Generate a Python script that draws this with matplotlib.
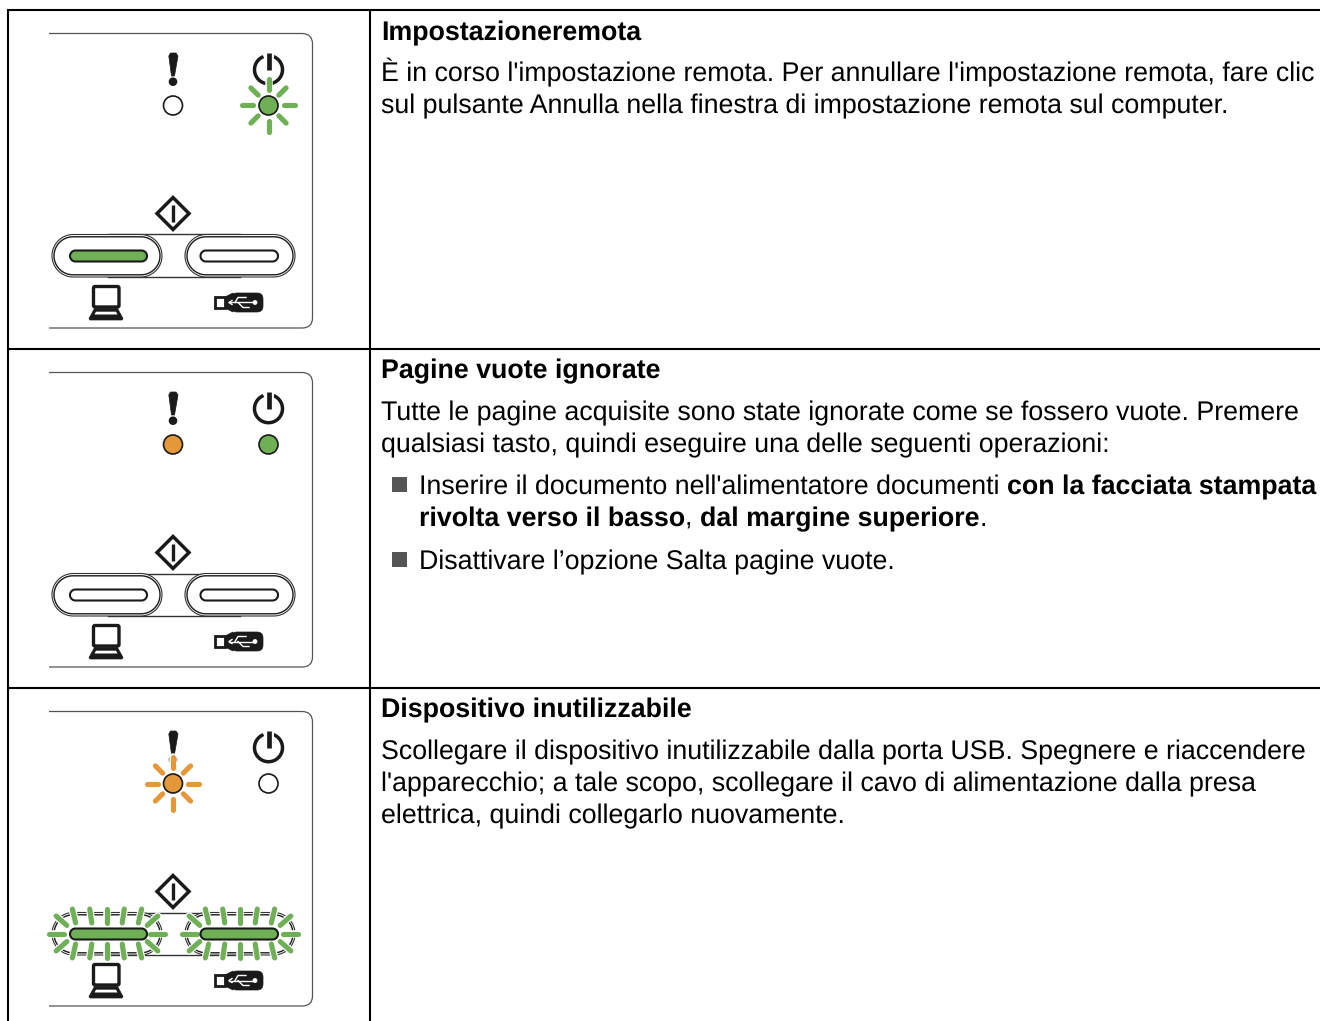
import numpy as np
import matplotlib
matplotlib.use("Agg")
import matplotlib.pyplot as plt
from matplotlib.patches import Circle, FancyBboxPatch, PathPatch, Polygon, Rectangle
from matplotlib.path import Path

plt.rcParams['font.family'] = ['Liberation Sans', 'DejaVu Sans']
plt.rcParams['text.hinting'] = 'no_hinting'

# -----------------------------
# Table text: (x, baseline y, [(text, bold), ...])
# -----------------------------
text_lines = [
    (381, 40, [("Impostazioneremota", True)]),
    (381, 81, [("È in corso l'impostazione remota. Per annullare l'impostazione remota, fare clic", False)]),
    (381, 113, [("sul pulsante Annulla nella finestra di impostazione remota sul computer.", False)]),
    (381, 378, [("Pagine vuote ignorate", True)]),
    (381, 420, [("Tutte le pagine acquisite sono state ignorate come se fossero vuote. Premere", False)]),
    (381, 452, [("qualsiasi tasto, quindi eseguire una delle seguenti operazioni:", False)]),
    (419, 494, [("Inserire il documento nell'alimentatore documenti ", False), ("con la facciata stampata", True)]),
    (419, 526, [("rivolta verso il basso", True), (", ", False), ("dal margine superiore", True), (".", False)]),
    (419, 569, [("Disattivare l’opzione Salta pagine vuote.", False)]),
    (381, 717, [("Dispositivo inutilizzabile", True)]),
    (381, 759, [("Scollegare il dispositivo inutilizzabile dalla porta USB. Spegnere e riaccendere", False)]),
    (381, 791, [("l'apparecchio; a tale scopo, scollegare il cavo di alimentazione dalla presa", False)]),
    (381, 823, [("elettrica, quindi collegarlo nuovamente.", False)]),
]
bullet_y = [484, 559]

row_lines = [10, 349, 688]
col_lines = [8, 370]

# -----------------------------
# Panel states, one per table row
# -----------------------------
panel_offsets = [0, 339, 678]
error_led = [None, "orange", "orange"]
power_led = ["green", "green", None]
error_blink = [False, False, True]
power_blink = [True, False, False]
pc_led = ["green", None, "green"]
usb_led = [None, None, "green"]
pills_blink = [False, False, True]

GREEN = "#6fb056"
ORANGE = "#e5983a"
colors = {"green": GREEN, "orange": ORANGE, None: "white"}
INK = "#1a1a1a"
FONT_SIZE = 19.22

fig = plt.figure(figsize=(13.2, 10.21), dpi=100)
ax = fig.add_axes([0, 0, 1, 1])
ax.set_xlim(0, 1320)
ax.set_ylim(1021, 0)
ax.axis("off")


def ray(x0, y0, x1, y1, col, z=6):
    # ends given as seen, the round caps add the rest
    d = np.hypot(x1 - x0, y1 - y0)
    ux, uy = (x1 - x0) / d * 1.6, (y1 - y0) / d * 1.6
    xs = [x0 + ux, x1 - ux]
    ys = [y0 + uy, y1 - uy]
    ax.plot(xs, ys, color="white", lw=5.4, solid_capstyle="round", zorder=z)
    ax.plot(xs, ys, color=col, lw=3.7, solid_capstyle="round", zorder=z + 0.1)


def led(x, y, col, blink):
    if blink:
        for a in np.arange(0, 360, 45):
            c, s = np.cos(np.radians(a)), np.sin(np.radians(a))
            r0, r1 = (13.5, 28) if a % 90 == 0 else (13, 26.5)
            ray(x + r0 * c, y + r0 * s, x + r1 * c, y + r1 * s, colors[col])
    ax.add_patch(Circle((x, y), 9.5, fc=colors[col], ec=INK, lw=1.2, zorder=7))


def pill(x0, x1, y0, y1, **kw):
    r = (y1 - y0) / 2
    t = np.radians(np.linspace(-90, 90, 40))
    xs = np.r_[x1 - r + r * np.cos(t), x0 + r - r * np.cos(t)]
    ys = np.r_[y0 + r + r * np.sin(t), y0 + r - r * np.sin(t)]
    ax.add_patch(Polygon(np.c_[xs, ys], closed=True, **kw))


def pill_rays(cx, y):
    col = GREEN
    for sign in (-1, 1):
        ray(cx + sign * 41, y, cx + sign * 60, y, col)
        ray(cx + sign * 39, y - 7, cx + sign * 52, y - 18.5, col)
        ray(cx + sign * 39, y + 7, cx + sign * 52, y + 18.5, col)
        for b, t in ((15, 17.5), (31, 35)):
            ray(cx + sign * b, y - 9, cx + sign * t, y - 26, col)
            ray(cx + sign * b, y + 9, cx + sign * t, y + 26, col)
    ray(cx, y - 9, cx, y - 26, col)
    ray(cx, y + 9, cx, y + 26, col)


def draw_panel(i):
    o = panel_offsets[i]

    # outline, open on the left
    verts = [(49, 33.5 + o), (302, 33.5 + o), (312.5, 33.5 + o), (312.5, 44 + o),
             (312.5, 318 + o), (312.5, 328 + o), (302, 328 + o), (49, 328 + o)]
    codes = [Path.MOVETO, Path.LINETO, Path.CURVE3, Path.CURVE3,
             Path.LINETO, Path.CURVE3, Path.CURVE3, Path.LINETO]
    ax.add_patch(PathPatch(Path(verts, codes), fc="none", ec="#555555", lw=0.9, zorder=2))

    # exclamation mark
    ax.add_patch(Polygon([(168.8, 56 + o), (170.5, 53 + o), (176, 53 + o), (178, 56 + o), (174.5, 76 + o), (171.5, 76 + o)],
                         closed=True, fc=INK, ec=INK, lw=0.5, zorder=3))
    ax.add_patch(Circle((173, 81.7 + o), 4.3, fc=INK, ec="none", zorder=3))

    # power symbol
    t = np.radians(np.linspace(-62, 242, 80))
    ax.plot(268.5 + 14 * np.cos(t), 69.7 + o + 14 * np.sin(t), color=INK, lw=2.5, zorder=3)
    ax.plot([268.5, 268.5], [53 + o, 70.5 + o], color="white", lw=7, zorder=3.1)
    ax.plot([268.5, 268.5], [53 + o, 70 + o], color=INK, lw=3.4, solid_capstyle="butt", zorder=3.2)

    led(173, 105.5 + o, error_led[i], error_blink[i])
    led(268.5, 105.5 + o, power_led[i], power_blink[i])

    # start diamond
    ax.add_patch(Polygon([(173, 197.5 + o), (189, 213.5 + o), (173, 229.5 + o), (157, 213.5 + o)],
                         closed=True, fc="white", ec=INK, lw=2.5, zorder=4))
    ax.plot([173, 173], [205 + o, 222 + o], color=INK, lw=2.4, solid_capstyle="butt", zorder=5)

    # connecting lines and double-walled buttons
    for y in (234.5, 277):
        ax.plot([108, 240], [y + o, y + o], color="#333333", lw=1.0, zorder=2)
    for x0, x1, led_x0, led_x1, state in ((52, 162, 70, 147, pc_led[i]), (185, 295, 200.5, 278, usb_led[i])):
        pill(x0, x1, 234.5 + o, 277 + o, fc="white", ec="#333333", lw=0.8, zorder=3)
        pill(x0 + 2, x1 - 2, 236.8 + o, 274.8 + o, fc="white", ec=INK, lw=1.0, zorder=3.1)
        pill(led_x0, led_x1, 250.5 + o, 261.5 + o, fc=colors[state], ec=INK, lw=1.5, zorder=7)
        if pills_blink[i]:
            pill_rays((x0 + x1) / 2, 255.5 + o)

    # computer
    ax.add_patch(FancyBboxPatch((93.5, 286.5 + o), 25.5, 20.5,
                                boxstyle="round,pad=0,rounding_size=1.5", fc="white", ec=INK, lw=2.4, zorder=3))
    ax.add_patch(Polygon([(94.5, 308.5 + o), (117.5, 308.5 + o), (123, 318.5 + o), (122, 320 + o), (90, 320 + o), (89, 318.5 + o)],
                         closed=True, fc=INK, ec=INK, lw=0.5, zorder=3))
    ax.add_patch(Polygon([(96, 311.7 + o), (116, 311.7 + o), (117.5, 314.5 + o), (94.5, 314.5 + o)],
                         closed=True, fc="white", ec="none", zorder=3.1))

    # usb stick
    ax.add_patch(Rectangle((215, 297 + o), 10, 11, fc="white", ec=INK, lw=2.0, zorder=3))
    ax.add_patch(FancyBboxPatch((231, 293 + o), 32, 19,
                                boxstyle="round,pad=0,rounding_size=6", fc=INK, ec=INK, lw=0.5, zorder=3))
    ax.add_patch(Polygon([(225, 297 + o), (233, 293 + o), (233, 312 + o), (225, 308 + o)],
                         closed=True, fc=INK, ec=INK, lw=0.5, zorder=3))
    ax.plot([229, 255], [302.5 + o, 302.5 + o], color="white", lw=1.0, zorder=4)
    ax.plot([232, 229, 232], [300.5 + o, 302.5 + o, 304.5 + o], color="white", lw=1.0, zorder=4)
    ax.plot([235, 238, 246], [302.5 + o, 297.5 + o, 297.5 + o], color="white", lw=1.0, zorder=4)
    ax.plot([238, 243, 249], [302.5 + o, 307.5 + o, 307.5 + o], color="white", lw=1.0, zorder=4)
    ax.add_patch(Circle((255, 302.5 + o), 2.4, fc="white", ec="none", zorder=4))


# -----------------------------
# Table rules
# -----------------------------
for y in row_lines:
    ax.plot([6.5, 1320], [y, y], color="black", lw=1.5, solid_capstyle="butt", zorder=1)
for x in col_lines:
    ax.plot([x, x], [row_lines[0], 1021], color="black", lw=1.5, solid_capstyle="butt", zorder=1)

for i in range(len(panel_offsets)):
    draw_panel(i)

# -----------------------------
# Text, bold and regular runs laid end to end
# -----------------------------
renderer = fig.canvas.get_renderer()
for x, y, runs in text_lines:
    for s, bold in runs:
        ax.text(x, y, s, fontsize=FONT_SIZE, fontweight="bold" if bold else "normal",
                color="black", va="baseline", ha="left")
        # trailing spaces are left out of the extent, so measure with a stand-in
        w = ax.text(0, 0, s.replace(" ", "\u00a0"), fontsize=FONT_SIZE,
                    fontweight="bold" if bold else "normal")
        x += w.get_window_extent(renderer).width
        w.remove()

for y in bullet_y:
    ax.add_patch(Rectangle((392, y - 7.5), 15, 15, fc="#555555", ec="none"))

fig.savefig("out.png", dpi=100)
